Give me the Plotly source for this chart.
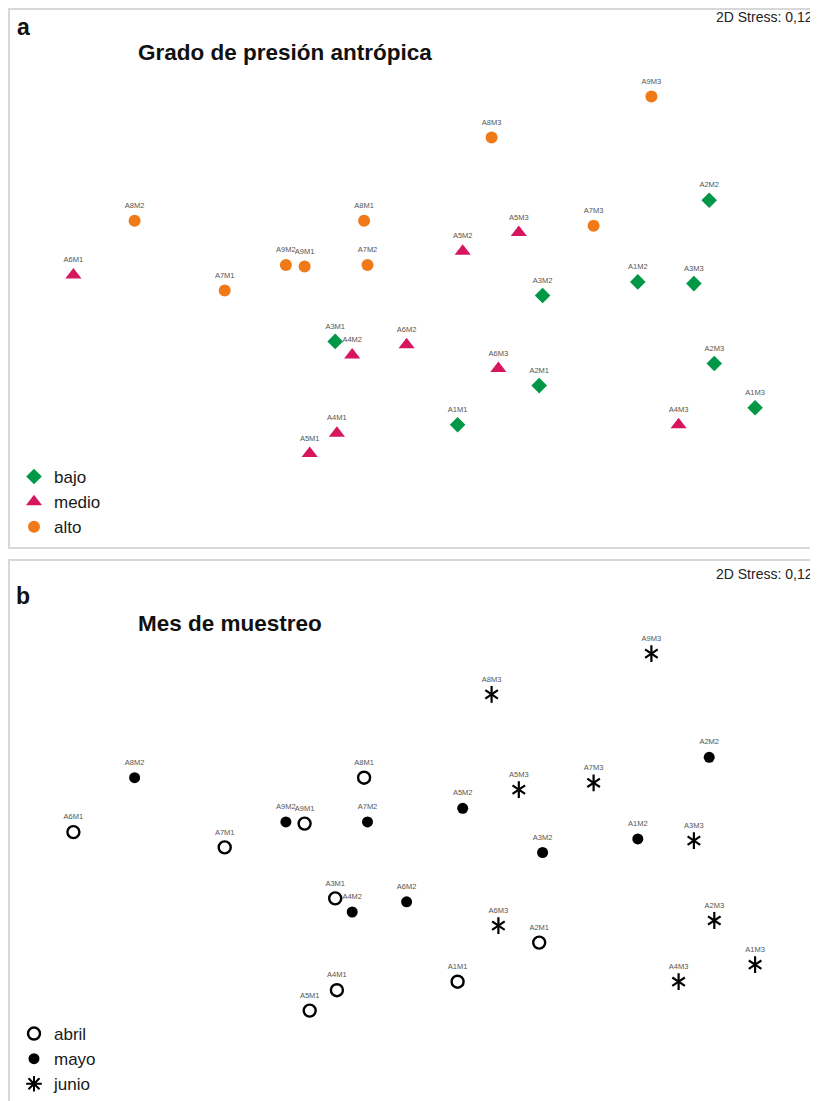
import plotly.graph_objects as go

# ---------------- data (NMDS coordinates) ----------------
sample_ids = ["A1M1", "A1M2", "A1M3", "A2M1", "A2M2", "A2M3", "A3M1", "A3M2", "A3M3",
              "A4M1", "A4M2", "A4M3", "A5M1", "A5M2", "A5M3", "A6M1", "A6M2", "A6M3",
              "A7M1", "A7M2", "A7M3", "A8M1", "A8M2", "A8M3", "A9M1", "A9M2", "A9M3"]
nmds1 = [0.28, 1.34, 2.03, 0.76, 1.76, 1.79, -0.44, 0.78, 1.67,
         -0.43, -0.34, 1.58, -0.59, 0.31, 0.64, -1.98, -0.02, 0.52,
         -1.09, -0.25, 1.08, -0.27, -1.62, 0.48, -0.62, -0.73, 1.42]
nmds2 = [-0.91, -0.07, -0.81, -0.68, 0.41, -0.55, -0.42, -0.15, -0.08,
         -0.96, -0.50, -0.91, -1.08, 0.11, 0.22, -0.03, -0.44, -0.58,
         -0.12, 0.03, 0.26, 0.29, 0.29, 0.78, 0.02, 0.03, 1.02]
pressure_levels = ["bajo", "medio", "alto"]
pressure_sites = {"bajo": [1, 2, 3], "medio": [4, 5, 6], "alto": [7, 8, 9]}
month_names = ["abril", "mayo", "junio"]
stress_text = "2D Stress: 0,12"
title_a = "Grado de presión antrópica"
title_b = "Mes de muestreo"

# page offset (body margin)
OFF = 8
S = 1.0
W, H = 810, 1120


def px_x(p):
    return (p - OFF) / W


def px_y(p):
    return 1 - (p / S - OFF) / H


site = [int(s[1]) for s in sample_ids]
mon = [int(s[3]) for s in sample_ids]

fig = go.Figure()

label_font = dict(family="Liberation Sans, Arial, sans-serif", size=7.5, color="#555555")

# ---------------- panel a ----------------
pstyle = {
    "bajo": dict(symbol="diamond", size=12, color="#009846"),
    "medio": dict(symbol="triangle-up", size=14, color="#D6175F"),
    "alto": dict(symbol="circle", size=12, color="#F07A17"),
}
for lvl in pressure_levels:
    idx = [i for i in range(len(sample_ids)) if site[i] in pressure_sites[lvl]]
    st = pstyle[lvl]
    fig.add_trace(go.Scatter(
        x=[nmds1[i] for i in idx], y=[nmds2[i] for i in idx], mode="markers",
        name=lvl, legend="legend", xaxis="x", yaxis="y",
        marker=dict(symbol=st["symbol"], size=st["size"], color=st["color"], line=dict(width=0)),
        hoverinfo="skip"))

for ax in [("x", "y"), ("x2", "y2")]:
    fig.add_trace(go.Scatter(
        x=nmds1, y=nmds2, mode="markers+text", text=sample_ids, textposition="top center",
        textfont=label_font, marker=dict(size=16, opacity=0), showlegend=False,
        xaxis=ax[0], yaxis=ax[1], hoverinfo="skip"))

# ---------------- panel b ----------------
for m, nm in enumerate(month_names, start=1):
    idx = [i for i in range(len(sample_ids)) if mon[i] == m]
    xs = [nmds1[i] for i in idx]
    ys = [nmds2[i] for i in idx]
    if nm == "abril":
        fig.add_trace(go.Scatter(x=xs, y=ys, mode="markers", name=nm, legend="legend2",
                                 xaxis="x2", yaxis="y2", hoverinfo="skip",
                                 marker=dict(symbol="circle-open", size=12, color="black",
                                             line=dict(width=2.4, color="black"))))
    elif nm == "mayo":
        fig.add_trace(go.Scatter(x=xs, y=ys, mode="markers", name=nm, legend="legend2",
                                 xaxis="x2", yaxis="y2", hoverinfo="skip",
                                 marker=dict(symbol="circle", size=11, color="black")))
    else:
        for sym in ["y-up-open", "y-down-open"]:
            fig.add_trace(go.Scatter(x=xs, y=ys, mode="markers", showlegend=False,
                                     xaxis="x2", yaxis="y2", hoverinfo="skip",
                                     marker=dict(symbol=sym, size=10.5, color="black",
                                                 line=dict(width=2.2, color="black"))))
        fig.add_trace(go.Scatter(x=[None], y=[None], mode="markers", name=nm, legend="legend2",
                                 xaxis="x2", yaxis="y2", hoverinfo="skip",
                                 marker=dict(symbol="asterisk-open", size=13, color="black",
                                             line=dict(width=2, color="black"))))

# ---------------- layout ----------------
xr = [(OFF - 410) / 170, (OFF + W - 410) / 170]
axis_common = dict(visible=False, fixedrange=True, showgrid=False, zeroline=False)
leg_common = dict(x=px_x(14), xanchor="left", yanchor="top",
                  font=dict(size=17, color="#1a1a1a"), bgcolor="rgba(0,0,0,0)",
                  tracegroupgap=0, itemwidth=30)
fig.update_layout(
    width=W, height=H, margin=dict(l=0, r=0, t=0, b=0),
    paper_bgcolor="white", plot_bgcolor="rgba(0,0,0,0)",
    font=dict(family="Liberation Sans, Arial, sans-serif", color="#1a1a1a"),
    xaxis=dict(domain=[0, 1], range=xr, anchor="y", **axis_common),
    yaxis=dict(domain=[px_y(550), 1], range=[(270 - 550) / 170, (270 - S * OFF) / 170],
               anchor="x", **axis_common),
    xaxis2=dict(domain=[0, 1], range=xr, anchor="y2", **axis_common),
    yaxis2=dict(domain=[0, px_y(557)], range=[(270 - (S * (OFF + H) - 557)) / 170, 270 / 170],
                anchor="x2", **axis_common),
    legend=dict(y=px_y(459), **leg_common),
    legend2=dict(y=px_y(1016), **leg_common),
    showlegend=True,
)

frame = dict(type="rect", xref="paper", yref="paper", line=dict(color="#d8d8d8", width=2),
             fillcolor="rgba(0,0,0,0)", layer="below")
fig.add_shape(x0=1 / W, x1=1.02, y0=px_y(548), y1=1 - 1 / H, **frame)
fig.add_shape(x0=1 / W, x1=1.02, y0=-0.02, y1=px_y(560), **frame)

ann = []
for letter, ly, title, ty, sy in [("a", 27, title_a, 53, 17), ("b", 596, title_b, 623, 574)]:
    ann.append(dict(text=f"<b>{letter}</b>", x=px_x(23), y=px_y(ly), xanchor="center", yanchor="middle",
                    font=dict(size=23, color="#111111")))
    ann.append(dict(text=f"<b>{title}</b>", x=px_x(136), y=px_y(ty), xanchor="left", yanchor="middle",
                    font=dict(size=22.5, color="#111111")))
    ann.append(dict(text=stress_text, x=px_x(815), y=px_y(sy), xanchor="right", yanchor="middle",
                    font=dict(size=14, color="#222222")))
for a in ann:
    fig.add_annotation(xref="paper", yref="paper", showarrow=False, **a)

fig.write_html("out.html")
